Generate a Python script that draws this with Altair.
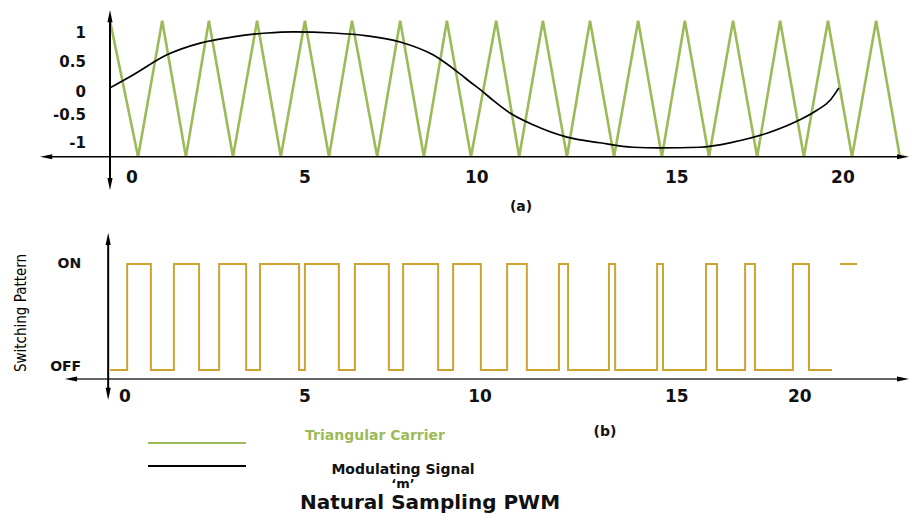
import altair as alt
import pandas as pd

# ---------------- values ----------------
# (a) triangular carrier: vertex times and amplitudes
carrier_t = [0.00, 0.77, 1.43, 2.08, 2.71, 3.37, 4.03, 4.68, 5.34, 6.00, 6.63, 7.32,
             7.95, 8.60, 9.23, 9.89, 10.58, 11.21, 11.86, 12.52, 13.15, 13.81, 14.47,
             15.12, 15.75, 16.41, 17.07, 17.73, 18.36, 19.01, 19.67, 20.33, 20.99, 21.64]
carrier_v = [1.22, -1.21, 1.22, -1.21, 1.22, -1.21, 1.22, -1.21, 1.22, -1.21, 1.22, -1.21,
             1.22, -1.21, 1.22, -1.21, 1.22, -1.21, 1.22, -1.21, 1.22, -1.21, 1.22,
             -1.21, 1.22, -1.21, 1.22, -1.21, 1.22, -1.21, 1.22, -1.21, 1.22, -1.21]

# (a) modulating signal 'm'
signal_t = [0.00, 0.63, 1.56, 2.47, 3.37, 4.30, 5.01, 6.11, 7.04, 7.95, 8.85, 9.59, 9.86,
            10.22, 10.49, 10.96, 11.59, 12.52, 13.42, 14.33, 15.07, 16.16, 17.07, 18.00,
            18.90, 19.37, 19.73, 19.97]
signal_v = [0.02, 0.25, 0.61, 0.82, 0.93, 1.00, 1.02, 1.00, 0.95, 0.84, 0.61, 0.27, 0.13,
            -0.05, -0.20, -0.43, -0.64, -0.86, -0.96, -1.04, -1.05, -1.04, -0.95, -0.79,
            -0.55, -0.38, -0.20, 0.02]

# (b) switching pattern: switching instants and state after each (1 = ON, 0 = OFF)
pulse_t = [0.00, 0.47, 1.12, 1.75, 2.44, 2.99, 3.73, 4.11, 5.18, 5.34, 6.27, 6.71, 7.64,
           8.03, 8.99, 9.40, 10.16, 10.88, 11.42, 12.30, 12.55, 13.67, 13.84, 14.99, 15.15,
           16.33, 16.63, 17.40, 17.67, 18.71, 19.15, 19.78]
pulse_s = [0, 1, 0, 1, 0, 1, 0, 1, 0, 1, 0, 1, 0, 1, 0, 1, 0, 1, 0, 1, 0, 1, 0, 1, 0,
           1, 0, 1, 0, 1, 0, 0]
tail_t = [20.00, 20.47]
tail_s = [1, 1]

# tick labels
xtick_labels = ["0", "5", "10", "15", "20"]
top_xtick_pos = [0.60, 5.34, 10.05, 15.53, 20.08]
bot_xtick_pos = [0.41, 5.34, 10.14, 15.53, 18.90]
ytick_labels = ["1", "0.5", "0", "-0.5", "-1"]
ytick_pos = [1.00, 0.48, -0.05, -0.46, -0.96]
state_labels = ["ON", "OFF"]
state_pos = [1.00, 0.03]

# ---------------- layout ----------------
W, H = 901, 506
XS = alt.Scale(domain=[(8 - 110) / 36.5, (909 - 110) / 36.5], nice=False, zero=False)
TOPY = alt.Scale(domain=[(89 - 514) / 56, (89 - 8) / 56], nice=False, zero=False)
BOTY = alt.Scale(domain=[(370 - 514) / 106, (370 - 8) / 106], nice=False, zero=False)

GREEN = "#9BBB59"
GOLD = "#CDA332"
FONT = "DejaVu Sans"

RIGHT = "M-1,-0.42L1,0L-1,0.42Z"
LEFT = "M1,-0.42L-1,0L1,0.42Z"
UP = "M-0.42,1L0,-1L0.42,1Z"
DOWN = "M-0.42,-1L0,1L0.42,-1Z"


def xq(f):
    return alt.X(f, type="quantitative", scale=XS, axis=None)


def yq(f, sc):
    return alt.Y(f, type="quantitative", scale=sc, axis=None)


carrier_df = pd.DataFrame({"t": carrier_t, "v": carrier_v, "i": range(len(carrier_t))})
signal_df = pd.DataFrame({"t": signal_t, "v": signal_v, "i": range(len(signal_t))})
pulse_df = pd.DataFrame({"t": pulse_t, "s": pulse_s, "i": range(len(pulse_t))})
tail_df = pd.DataFrame({"t": tail_t, "s": tail_s, "i": range(len(tail_t))})

layers = []

# ---- panel (a) ----
layers.append(alt.Chart(carrier_df).mark_line(color=GREEN, strokeWidth=2.6).encode(
    x=xq("t"), y=yq("v", TOPY), order="i:Q"))
layers.append(alt.Chart(signal_df).mark_line(color="black", strokeWidth=1.7,
                                             interpolate="monotone").encode(
    x=xq("t"), y=yq("v", TOPY), order="i:Q"))

top_h = pd.DataFrame({"a": [-1.62], "b": [21.73], "v": [-1.21]})
layers.append(alt.Chart(top_h).mark_rule(color="black", strokeWidth=1.6).encode(
    x=xq("a"), x2="b", y=yq("v", TOPY)))
top_v = pd.DataFrame({"t": [0.0], "a": [-1.70], "b": [1.30]})
layers.append(alt.Chart(top_v).mark_rule(color="black", strokeWidth=2).encode(
    x=xq("t"), y=yq("a", TOPY), y2="b"))
top_arrows = pd.DataFrame({"t": [-1.75, 21.73, 0.0, 0.0], "v": [-1.21, -1.21, 1.30, -1.70],
                           "shape": [LEFT, RIGHT, UP, DOWN]})
layers.append(alt.Chart(top_arrows).mark_point(filled=True, color="black", opacity=1,
                                               size=150).encode(
    x=xq("t"), y=yq("v", TOPY), shape=alt.Shape("shape:N", scale=None)))

ytick_df = pd.DataFrame({"t": [-0.66] * len(ytick_labels), "v": ytick_pos, "lab": ytick_labels})
layers.append(alt.Chart(ytick_df).mark_text(font=FONT, fontWeight="bold", fontSize=15,
                                            align="right", baseline="middle",
                                            color="#111").encode(
    x=xq("t"), y=yq("v", TOPY), text="lab:N"))
top_xt = pd.DataFrame({"t": top_xtick_pos, "v": [-1.59] * 5, "lab": xtick_labels})
layers.append(alt.Chart(top_xt).mark_text(font=FONT, fontWeight="bold", fontSize=17,
                                          align="center", baseline="middle",
                                          color="#111").encode(
    x=xq("t"), y=yq("v", TOPY), text="lab:N"))

# ---- panel (b) ----
layers.append(alt.Chart(pulse_df).mark_line(color=GOLD, strokeWidth=2,
                                            interpolate="step-after").encode(
    x=xq("t"), y=yq("s", BOTY), order="i:Q"))
layers.append(alt.Chart(tail_df).mark_line(color=GOLD, strokeWidth=2).encode(
    x=xq("t"), y=yq("s", BOTY), order="i:Q"))

bot_h = pd.DataFrame({"a": [-1.07], "b": [21.73], "s": [-0.085]})
layers.append(alt.Chart(bot_h).mark_rule(color="#333", strokeWidth=1.6).encode(
    x=xq("a"), x2="b", y=yq("s", BOTY)))
bot_v = pd.DataFrame({"t": [-0.05], "a": [-0.226], "b": [1.236]})
layers.append(alt.Chart(bot_v).mark_rule(color="black", strokeWidth=2).encode(
    x=xq("t"), y=yq("a", BOTY), y2="b"))
bot_arrows = pd.DataFrame({"t": [-1.07, 21.73, -0.05, -0.05], "s": [-0.085, -0.085, 1.236, -0.226],
                           "shape": [LEFT, RIGHT, UP, DOWN]})
layers.append(alt.Chart(bot_arrows).mark_point(filled=True, color="black", opacity=1,
                                               size=150).encode(
    x=xq("t"), y=yq("s", BOTY), shape=alt.Shape("shape:N", scale=None)))

state_df = pd.DataFrame({"t": [-0.79, -0.79], "s": state_pos, "lab": state_labels})
layers.append(alt.Chart(state_df).mark_text(font=FONT, fontWeight="bold", fontSize=14,
                                            align="right", baseline="middle",
                                            color="#111").encode(
    x=xq("t"), y=yq("s", BOTY), text="lab:N"))
bot_xt = pd.DataFrame({"t": bot_xtick_pos, "s": [-0.255] * 5, "lab": xtick_labels})
layers.append(alt.Chart(bot_xt).mark_text(font=FONT, fontWeight="bold", fontSize=17,
                                          align="center", baseline="middle",
                                          color="#111").encode(
    x=xq("t"), y=yq("s", BOTY), text="lab:N"))


# ---- annotations, legend and title ----
def note(text, x, y, size, color="#111", weight="bold", font=FONT, angle=0,
         baseline="middle"):
    return alt.Chart(pd.DataFrame({"lab": [text]})).mark_text(
        font=font, fontSize=size, fontWeight=weight, color=color, angle=angle,
        align="center", baseline=baseline).encode(
        x=alt.value(x), y=alt.value(y), text="lab:N")


layers.append(note("(a)", 513, 199, 14))
layers.append(note("(b)", 597, 424, 14))
layers.append(note("Switching Pattern", 13, 305, 15, color="black", weight="normal",
                   font="Liberation Sans Narrow, DejaVu Sans Condensed, Roboto", angle=270))

legend_df = pd.DataFrame({"c": ["carrier", "signal"]})
layers.append(alt.Chart(legend_df.iloc[[0]]).mark_rule(color=GREEN, strokeWidth=2.2).encode(
    x=alt.value(140), x2=alt.value(238), y=alt.value(435)))
layers.append(alt.Chart(legend_df.iloc[[1]]).mark_rule(color="black", strokeWidth=2.2).encode(
    x=alt.value(140), x2=alt.value(238), y=alt.value(458)))
layers.append(note("Triangular Carrier", 367, 428, 14, color=GREEN))
layers.append(note("Modulating Signal", 395, 462, 14))
layers.append(note("\u2018m\u2019", 395, 476, 13))
layers.append(note("Natural Sampling PWM", 422, 501, 20, baseline="alphabetic"))

chart = alt.layer(*layers).resolve_scale(y="independent").properties(
    width=W, height=H, autosize=alt.AutoSizeParams(type="none"), padding=0,
    background="white"
).configure_view(stroke=None)

chart.save("out.html", embed_options={"renderer": "svg", "actions": False})
